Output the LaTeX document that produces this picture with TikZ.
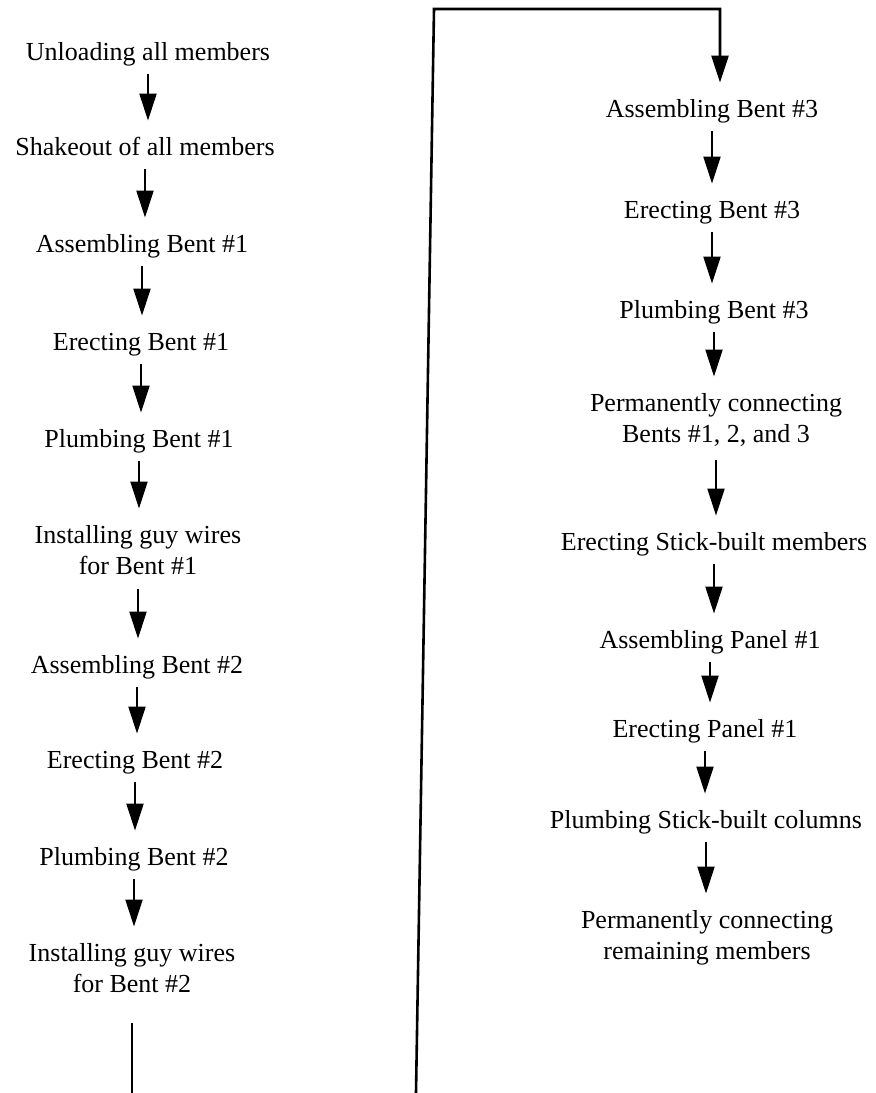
\documentclass[tikz,border=0pt]{standalone}
\usepackage{fontspec}
\setmainfont{Liberation Serif}
\usetikzlibrary{arrows.meta}

\tikzset{
  stage/.style={inner sep=0pt, inner ysep=4pt, anchor=base, font=\fontsize{13}{15.5}\selectfont, text height=9pt, text depth=3pt},
  stagetwo/.style={inner sep=0pt, inner ysep=4pt, anchor=base, align=center, font=\fontsize{13}{15.5}\selectfont},
  flow/.style={-{Triangle[width=8.5pt,length=13.5pt]}, line width=1pt, shorten >=4pt},
  link/.style={line width=1.3pt}
}

\begin{document}
\begin{tikzpicture}[x=0.5pt, y=-0.5pt]
	\useasboundingbox (0,0) rectangle (875,1093);
	% left column
	\node[stage] (u1) at (148,60) {Unloading all members};
	\node[stage] (u2) at (145,155) {Shakeout of all members};
	\node[stage] (u3) at (142,252) {Assembling Bent \#1};
	\node[stage] (u4) at (141,350) {Erecting Bent \#1};
	\node[stage] (u5) at (139,447) {Plumbing Bent \#1};
	\node[stagetwo] (u6) at (138,574) {Installing guy wires\\for Bent \#1};
	\node[stage] (u7) at (137,673) {Assembling Bent \#2};
	\node[stage] (u8) at (135,768) {Erecting Bent \#2};
	\node[stage] (u9) at (134,865) {Plumbing Bent \#2};
	\node[stagetwo] (u10) at (132,992) {Installing guy wires\\for Bent \#2};
	\draw[flow] (u1.south) -- (u1.south |- u2.north);
	\draw[flow] (u2.south) -- (u2.south |- u3.north);
	\draw[flow] (u3.south) -- (u3.south |- u4.north);
	\draw[flow] (u4.south) -- (u4.south |- u5.north);
	\draw[flow] (u5.south) -- (u5.south |- u6.north);
	\draw[flow, shorten <=3pt] (u6.south) -- (u6.south |- u7.north);
	\draw[flow] (u7.south) -- (u7.south |- u8.north);
	\draw[flow] (u8.south) -- (u8.south |- u9.north);
	\draw[flow] (u9.south) -- (u9.south |- u10.north);
	\coordinate (lbot) at (130,1093);
	\draw[link, shorten <=11pt] (u10.south) -- (u10.south |- lbot);

	% right column
	\node[stage] (r1) at (712,117) {Assembling Bent \#3};
	\node[stage] (r2) at (712,218) {Erecting Bent \#3};
	\node[stage] (r3) at (714,318) {Plumbing Bent \#3};
	\node[stagetwo] (r4) at (716,442) {Permanently connecting\\Bents \#1, 2, and 3};
	\node[stage] (r5) at (714,550) {Erecting Stick-built members};
	\node[stage] (r6) at (710,648) {Assembling Panel \#1};
	\node[stage] (r7) at (705,737) {Erecting Panel \#1};
	\node[stage] (r8) at (706,828) {Plumbing Stick-built columns};
	\node[stagetwo] (r9) at (707,959) {Permanently connecting\\remaining members};
	\draw[flow] (r1.south) -- (r1.south |- r2.north);
	\draw[flow] (r2.south) -- (r2.south |- r3.north);
	\draw[flow] (r3.south) -- (r3.south |- r4.north);
	\draw[flow, shorten <=3pt] (r4.south) -- (r4.south |- r5.north);
	\draw[flow] (r5.south) -- (r5.south |- r6.north);
	\draw[flow] (r6.south) -- (r6.south |- r7.north);
	\draw[flow] (r7.south) -- (r7.south |- r8.north);
	\draw[flow] (r8.south) -- (r8.south |- r9.north);

	% return line
	\coordinate (rbot) at (416,1093);
	\coordinate (rtop) at (434,9);
	\coordinate (rturn) at (720,9);
	\draw[flow, link] (rbot) -- (rtop) -- (rturn) -- (rturn |- r1.north);
\end{tikzpicture}
\end{document}
